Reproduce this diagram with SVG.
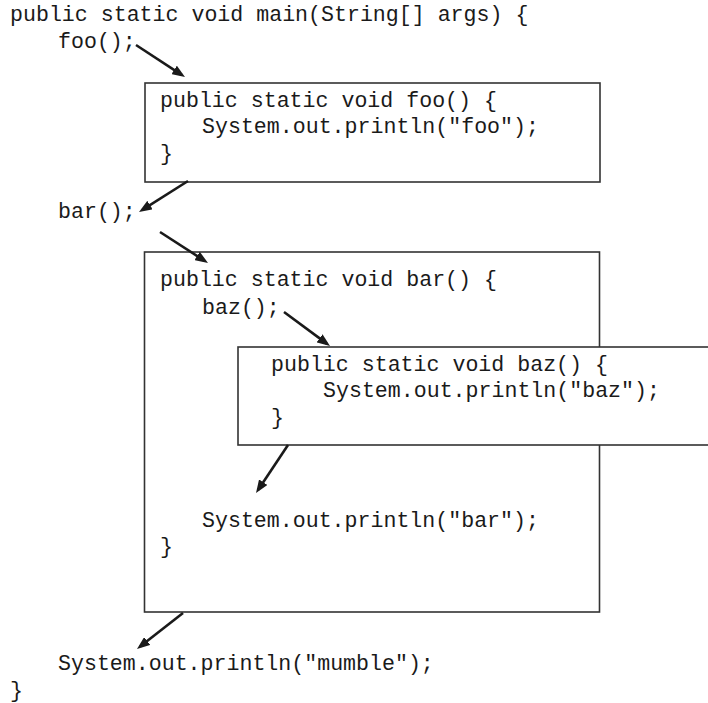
<svg xmlns="http://www.w3.org/2000/svg" width="708" height="703" viewBox="0 0 708 703">
  <style>
    text { font-family: "Liberation Mono", "Courier New", monospace; font-size: 21.6px; fill: #1a1a1a; }
    .box { fill: #ffffff; stroke: #333333; stroke-width: 1.6; }
    .arrow { stroke: #1a1a1a; stroke-width: 2.6; fill: none; marker-end: url(#head); }
  </style>
  <defs>
    <marker id="head" markerUnits="userSpaceOnUse" markerWidth="13" markerHeight="10" viewBox="0 0 13 10" refX="9" refY="5" orient="auto">
      <path d="M0,0 L13,5 L0,10 z" fill="#1a1a1a"/>
    </marker>
  </defs>
  <rect width="708" height="703" fill="#ffffff"/>

  <g id="main">
    <text x="10" y="21">public static void main(String[] args) {</text>
    <text x="58" y="48">foo();</text>
    <text x="58" y="218">bar();</text>
    <text x="58" y="670">System.out.println("mumble");</text>
    <text x="10" y="697">}</text>
  </g>

  <g id="foo">
    <rect class="box" x="145" y="83" width="455" height="99"/>
    <text x="160" y="107">public static void foo() {</text>
    <text x="202" y="133">System.out.println("foo");</text>
    <text x="160" y="160">}</text>
  </g>

  <g id="bar">
    <rect class="box" x="144.5" y="252" width="455" height="360"/>
    <text x="160" y="286">public static void bar() {</text>
    <text x="202" y="314">baz();</text>
    <text x="202" y="527">System.out.println("bar");</text>
    <text x="160" y="553">}</text>
  </g>

  <g id="baz">
    <rect class="box" x="238" y="347" width="480" height="98"/>
    <text x="271" y="371">public static void baz() {</text>
    <text x="323" y="397">System.out.println("baz");</text>
    <text x="271" y="424">}</text>
  </g>

  <g id="connectors">
    <line class="arrow" x1="136" y1="45" x2="181.65" y2="74.81"/>
    <line class="arrow" x1="188" y1="181" x2="142.38" y2="209.86"/>
    <line class="arrow" x1="160" y1="232" x2="204.64" y2="260.83"/>
    <line class="arrow" x1="284" y1="312" x2="326.78" y2="343.62"/>
    <line class="arrow" x1="288" y1="445" x2="258.22" y2="489.67"/>
    <line class="arrow" x1="183" y1="613" x2="140.15" y2="646.54"/>
  </g>
</svg>
